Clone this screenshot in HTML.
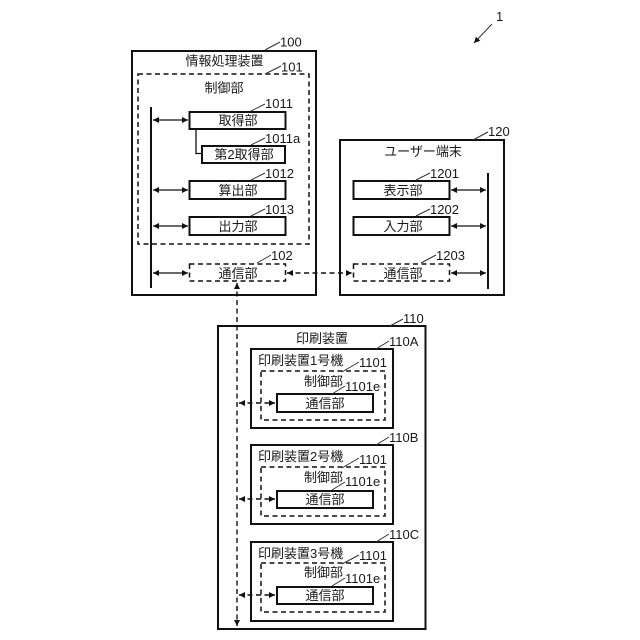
<!DOCTYPE html>
<html><head><meta charset="utf-8"><style>
html,body{margin:0;padding:0;background:#fff}
svg{display:block}
text{font-family:"Liberation Sans","Noto Sans CJK JP",sans-serif;font-size:13px;fill:#1a1a1a}
.b{fill:#fff;stroke:#111;stroke-width:2}
.d{fill:none;stroke:#111;stroke-width:1.5;stroke-dasharray:5 3.5}
.l{stroke:#111;stroke-width:1.3;fill:none}
.s{stroke:#333;stroke-width:1;fill:none}
.dl{stroke:#111;stroke-width:1.4;stroke-dasharray:5 3.5;fill:none}
.m{text-anchor:middle}
</style></head><body>
<svg width="640" height="640" viewBox="0 0 640 640" xmlns="http://www.w3.org/2000/svg">
<defs>
<marker id="a" markerWidth="7" markerHeight="7" refX="6" refY="3" orient="auto-start-reverse" markerUnits="userSpaceOnUse"><path d="M0 0L6 3L0 6z" fill="#111"/></marker>
</defs>
<rect width="640" height="640" fill="#fff"/>
<text x="496" y="21">1</text><path class="s" d="M492 24L474 43" marker-end="url(#a)"/>

<!-- 100 -->
<rect class="b" x="132" y="51" width="184" height="244"/>
<rect class="d" x="138" y="74" width="171" height="170"/>
<path d="M151 107V288" stroke="#111" stroke-width="2"/>
<text class="m" x="224.500" y="65.500">情報処理装置</text>
<text class="m" x="224" y="92.500">制御部</text>
<text x="280" y="46.500">100</text><path class="s" d="M265 50L280 42"/>
<text x="281" y="71.500">101</text><path class="s" d="M265 74L281 66"/>

<path class="l" d="M196 129V153.500H202"/>
<rect class="b" x="189.500" y="112" width="96" height="17"/>
<rect class="b" x="202" y="146" width="83" height="17"/>
<rect class="b" x="189.500" y="181" width="96" height="18"/>
<rect class="b" x="189.500" y="217" width="96" height="18"/>
<rect class="d" x="189.500" y="264" width="96" height="17"/>
<text class="m" x="238" y="125">取得部</text>
<text class="m" x="244" y="159">第2取得部</text>
<text class="m" x="238" y="195">算出部</text>
<text class="m" x="238" y="231">出力部</text>
<text class="m" x="238" y="278">通信部</text>
<path class="l" d="M153 120H188" marker-start="url(#a)" marker-end="url(#a)"/>
<path class="l" d="M153 190H188" marker-start="url(#a)" marker-end="url(#a)"/>
<path class="l" d="M153 226H188" marker-start="url(#a)" marker-end="url(#a)"/>
<path class="l" d="M153 273H188" marker-start="url(#a)" marker-end="url(#a)"/>
<text x="265" y="108">1011</text><path class="s" d="M251 111L265 104"/>
<text x="265" y="143">1011a</text><path class="s" d="M251 145L265 138"/>
<text x="265" y="178">1012</text><path class="s" d="M251 180L265 173"/>
<text x="265" y="214">1013</text><path class="s" d="M251 216L265 209"/>
<text x="271" y="260">102</text><path class="s" d="M257 263L271 255"/>

<!-- 120 -->
<rect class="b" x="340" y="140" width="164" height="155"/>
<path d="M488 173V289" stroke="#111" stroke-width="2"/>
<text class="m" x="423" y="156">ユーザー端末</text>
<text x="488" y="136">120</text><path class="s" d="M473 140L488 132"/>
<rect class="b" x="353.500" y="181" width="96" height="18"/>
<rect class="b" x="353.500" y="217" width="96" height="18"/>
<rect class="d" x="353.500" y="264" width="96" height="17"/>
<text class="m" x="403" y="195">表示部</text>
<text class="m" x="403" y="231">入力部</text>
<text class="m" x="403" y="278">通信部</text>
<path class="l" d="M451 190H486" marker-start="url(#a)" marker-end="url(#a)"/>
<path class="l" d="M451 226H486" marker-start="url(#a)" marker-end="url(#a)"/>
<path class="l" d="M451 273H486" marker-start="url(#a)" marker-end="url(#a)"/>
<text x="430" y="178">1201</text><path class="s" d="M416 180L430 173"/>
<text x="430" y="214">1202</text><path class="s" d="M416 216L430 209"/>
<text x="436" y="260">1203</text><path class="s" d="M421 263L436 255"/>

<!-- 110 -->
<rect class="b" x="218" y="326" width="207.500" height="303"/>
<text class="m" x="322" y="343">印刷装置</text>
<text x="403" y="323">110</text><path class="s" d="M390 326L403 319"/>

<!-- A -->
<rect class="b" x="251" y="349" width="142" height="79"/>
<rect class="d" x="261" y="371" width="124" height="49"/>
<rect class="b" x="277" y="394" width="96" height="18"/>
<text x="258" y="365">印刷装置1号機</text>
<text x="304" y="386">制御部</text>
<text class="m" x="325" y="408">通信部</text>
<text x="389" y="346">110A</text><path class="s" d="M376 349L389 341"/>
<text x="359" y="367">1101</text><path class="s" d="M342 372L359 362"/>
<text x="345" y="391">1101e</text><path class="s" d="M332 394L345 386"/>

<!-- B -->
<rect class="b" x="251" y="445" width="142" height="79"/>
<rect class="d" x="261" y="467" width="124" height="49"/>
<rect class="b" x="277" y="491" width="96" height="17"/>
<text x="258" y="461">印刷装置2号機</text>
<text x="304" y="482">制御部</text>
<text class="m" x="325" y="504">通信部</text>
<text x="389" y="442">110B</text><path class="s" d="M376 445L389 437"/>
<text x="359" y="464">1101</text><path class="s" d="M342 468L359 458"/>
<text x="345" y="486">1101e</text><path class="s" d="M332 490L345 482"/>

<!-- C -->
<rect class="b" x="251" y="542" width="142" height="79"/>
<rect class="d" x="261" y="563" width="124" height="49"/>
<rect class="b" x="277" y="587" width="96" height="17"/>
<text x="258" y="558">印刷装置3号機</text>
<text x="304" y="577">制御部</text>
<text class="m" x="325" y="600">通信部</text>
<text x="389" y="539">110C</text><path class="s" d="M376 542L389 534"/>
<text x="359" y="560">1101</text><path class="s" d="M342 564L359 555"/>
<text x="345" y="583">1101e</text><path class="s" d="M332 586L345 578"/>

<!-- dashed links drawn on top -->
<path class="dl" d="M287 273H352" marker-start="url(#a)" marker-end="url(#a)"/>
<path class="dl" d="M237 283V626" marker-start="url(#a)" marker-end="url(#a)"/>
<path class="dl" d="M239 403H275" marker-start="url(#a)" marker-end="url(#a)"/>
<path class="dl" d="M239 499H275" marker-start="url(#a)" marker-end="url(#a)"/>
<path class="dl" d="M239 595H275" marker-start="url(#a)" marker-end="url(#a)"/>
</svg>
</body></html>
